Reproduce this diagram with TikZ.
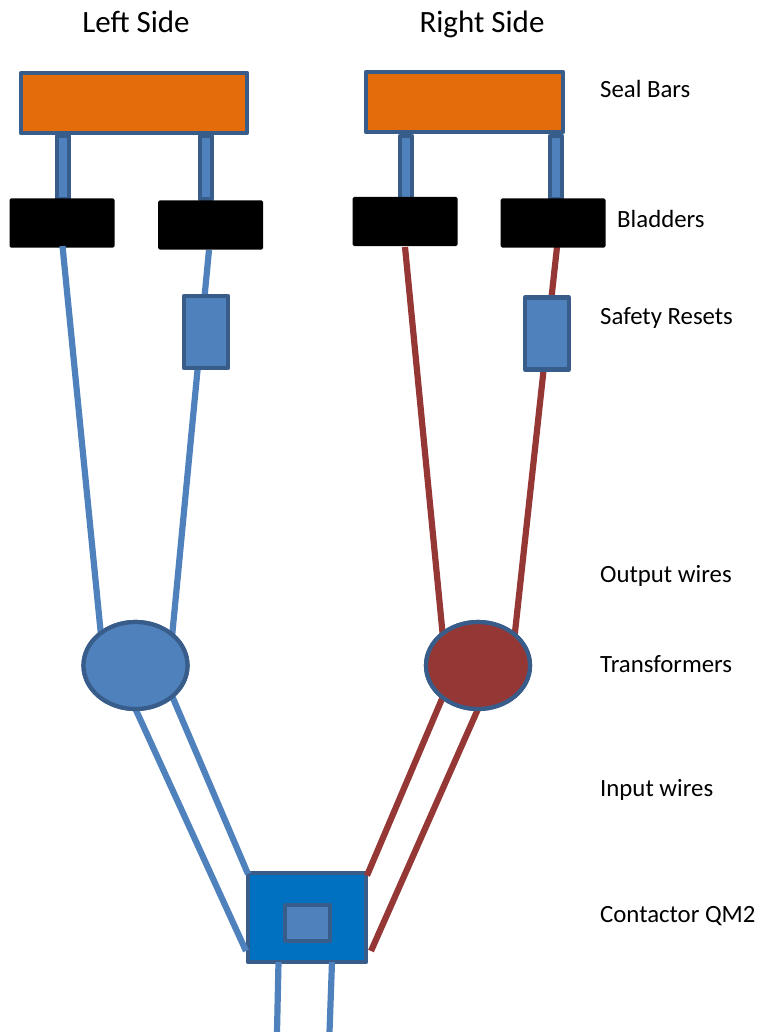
\documentclass[tikz,border=0pt]{standalone}
\usepackage{fontspec}
\usetikzlibrary{shapes.geometric}
\setmainfont{Carlito}
\pgfdeclarelayer{wires}
\pgfsetlayers{wires,main}
\definecolor{edgeb}{HTML}{385D8A}
\definecolor{bluew}{HTML}{4F81BD}
\definecolor{redw}{HTML}{953735}
\definecolor{orangef}{HTML}{E46C0A}
\definecolor{contact}{HTML}{0070C0}
\begin{document}
\begin{tikzpicture}[x=1pt,y=-1pt,
  bx/.style={draw=edgeb,line width=4.2pt,line join=round,inner sep=0,outer sep=0},
  rod/.style={bx,fill=bluew,minimum width=12pt,minimum height=63pt},
  seal/.style={bx,fill=orangef,minimum height=60pt},
  bladder/.style={fill=black,rounded corners=1.5pt,minimum width=105pt,minimum height=49pt,inner sep=0,outer sep=0},
  reset/.style={bx,fill=bluew,minimum width=44pt,minimum height=72pt},
  xfmr/.style={ellipse,draw=edgeb,line width=4.2pt,minimum width=104pt,minimum height=87pt,inner sep=0,outer sep=0},
  bwire/.style={line width=6.2pt,draw=bluew},
  rwire/.style={line width=6.2pt,draw=redw},
  lbl/.style={font=\fontsize{24.8pt}{28pt}\selectfont,anchor=base west,inner sep=0,text=black},
  ttl/.style={font=\fontsize{31pt}{34pt}\selectfont,anchor=base,inner sep=0,text=black}]
\useasboundingbox (0,0) rectangle (757,1032);
\begin{pgfonlayer}{wires}
\fill[white] (0,0) rectangle (757,1032);
\end{pgfonlayer}
% rods and seal bars
\node[rod] (r1) at (63,167.5) {};
\node[rod] (r2) at (206,167.5) {};
\node[rod] (r3) at (406,167.5) {};
\node[rod] (r4) at (556,167.5) {};
\node[seal,minimum width=226pt] (s1) at (134,103) {};
\node[seal,minimum width=197pt] (s2) at (464.5,102) {};
% bladders
\node[bladder] (b1) at (62,223) {};
\node[bladder] (b2) at (210.5,225) {};
\node[bladder] (b3) at (405,221.5) {};
\node[bladder] (b4) at (553,223) {};
% safety resets
\node[reset] (f1) at (206,332) {};
\node[reset] (f2) at (547,333.5) {};
% transformers
\node[xfmr,fill=bluew] (tl) at (135.5,665.5) {};
\node[xfmr,fill=redw] (tr) at (478,665.5) {};
% contactor
\node[bx,fill=contact,minimum width=118pt,minimum height=89pt] (c) at (307,917.5) {};
\node[bx,fill=bluew,minimum width=45pt,minimum height=36pt] (ci) at (307.5,923) {};
% free wire ends
\coordinate (w1) at (62.5,246);
\coordinate (w2) at (209,250);
\coordinate (w3) at (405,247);
\coordinate (w4) at (557,247);
\coordinate (a1) at (248,874);
\coordinate (a2) at (246,951);
\coordinate (a3) at (367,875.5);
\coordinate (a4) at (371,951);
\coordinate (o1) at (278.5,962);
\coordinate (o2) at (332,962);
\coordinate (e1) at (277,1032);
\coordinate (e2) at (329.5,1032);
% wires in front of the bladders and contactor
\draw[bwire] (w1) -- (tl.137.5);
\draw[rwire] (w3) -- (tr.138);
\draw[bwire] (tl.south) -- (a2);
\draw[bwire] (tl.-40) -- (a1);
\draw[rwire] (tr.south) -- (a4);
\draw[rwire] (tr.222) -- (a3);
\draw[bwire] (o1) -- (e1);
\draw[bwire] (o2) -- (e2);
% wires behind the safety resets
\begin{pgfonlayer}{wires}
\draw[bwire] (w2) -- (tl.40);
\draw[rwire] (w4) -- (tr.40);
\end{pgfonlayer}
% transformer outlines stay over the wire ends
\node[xfmr,fill=bluew] at (tl) {};
\node[xfmr,fill=redw] at (tr) {};
% labels
\node[ttl] (t1) at (136,33) {Left Side};
\node[ttl] (t2) at (482,32.5) {Right Side};
\node[lbl] (l1) at (600,98) {Seal Bars};
\node[lbl] (l2) at (617,227) {Bladders};
\node[lbl] (l3) at (600,324) {Safety Resets};
\node[lbl] (l4) at (600,582) {Output wires};
\node[lbl] (l5) at (600,672) {Transformers};
\node[lbl] (l6) at (600,796) {Input wires};
\node[lbl] (l7) at (600,922) {Contactor QM2};
\end{tikzpicture}
\end{document}
